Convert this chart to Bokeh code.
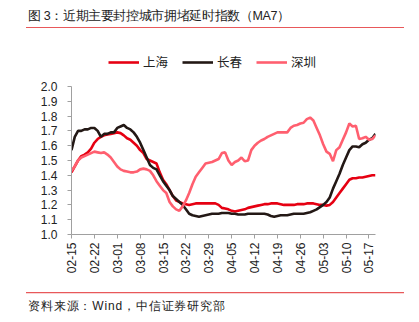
import pandas as pd
from bokeh.plotting import figure
from bokeh.models import (Range1d, FixedTicker, Legend, LegendItem, ColumnDataSource,
                          NumeralTickFormatter, Div)
from bokeh.layouts import column
from bokeh.embed import file_html
from bokeh.resources import INLINE

title_text = "图 3：近期主要封控城市拥堵延时指数（MA7）"
source_text = "资料来源：Wind，中信证券研究部"

dates = pd.date_range("2022-02-15", periods=94, freq="D")
tick_labels = ["02-15", "02-22", "03-01", "03-08", "03-15", "03-22", "03-29",
               "04-05", "04-12", "04-19", "04-26", "05-03", "05-10", "05-17"]
y_ticks = [1.0, 1.1, 1.2, 1.3, 1.4, 1.5, 1.6, 1.7, 1.8, 1.9, 2.0]

shanghai = [1.42, 1.46, 1.50, 1.53, 1.54, 1.555, 1.58, 1.62, 1.645, 1.66,
            1.67, 1.675, 1.68, 1.685, 1.69, 1.685, 1.67, 1.65, 1.64, 1.62,
            1.60, 1.57, 1.55, 1.51, 1.50, 1.49, 1.48, 1.42, 1.37, 1.34,
            1.30, 1.26, 1.23, 1.22, 1.21, 1.205, 1.20, 1.205, 1.21, 1.21,
            1.21, 1.21, 1.21, 1.21, 1.21, 1.20, 1.18, 1.175, 1.17, 1.16,
            1.155, 1.16, 1.165, 1.17, 1.18, 1.185, 1.19, 1.195, 1.20, 1.205,
            1.205, 1.21, 1.21, 1.21, 1.205, 1.20, 1.20, 1.20, 1.20, 1.205,
            1.205, 1.205, 1.21, 1.21, 1.21, 1.205, 1.20, 1.20, 1.195, 1.20,
            1.22, 1.25, 1.28, 1.31, 1.34, 1.37, 1.38, 1.38, 1.385, 1.385,
            1.39, 1.395, 1.40, 1.40]

changchun = [1.57, 1.66, 1.70, 1.70, 1.71, 1.71, 1.72, 1.72, 1.70, 1.66,
             1.68, 1.68, 1.69, 1.69, 1.72, 1.73, 1.74, 1.72, 1.71, 1.69,
             1.66, 1.62, 1.57, 1.52, 1.47, 1.45, 1.44, 1.40, 1.36, 1.33,
             1.30, 1.26, 1.24, 1.22, 1.20, 1.17, 1.14, 1.13, 1.125, 1.12,
             1.125, 1.13, 1.135, 1.14, 1.14, 1.14, 1.145, 1.145, 1.145, 1.14,
             1.14, 1.135, 1.135, 1.135, 1.14, 1.14, 1.14, 1.14, 1.14, 1.14,
             1.135, 1.125, 1.12, 1.125, 1.13, 1.13, 1.13, 1.135, 1.14, 1.14,
             1.14, 1.14, 1.145, 1.15, 1.16, 1.17, 1.185, 1.20, 1.22, 1.25,
             1.31, 1.36, 1.41, 1.47, 1.52, 1.57, 1.595, 1.595, 1.59, 1.61,
             1.62, 1.64, 1.65, 1.68]

shenzhen = [1.43, 1.46, 1.50, 1.52, 1.53, 1.54, 1.55, 1.56, 1.555, 1.55,
            1.555, 1.54, 1.52, 1.49, 1.46, 1.44, 1.43, 1.425, 1.42, 1.42,
            1.425, 1.44, 1.445, 1.44, 1.43, 1.40, 1.36, 1.33, 1.30, 1.28,
            1.22, 1.19, 1.17, 1.16, 1.19, 1.23, 1.28, 1.34, 1.39, 1.42,
            1.45, 1.48, 1.485, 1.49, 1.50, 1.51, 1.55, 1.555, 1.50, 1.47,
            1.49, 1.50, 1.52, 1.495, 1.50, 1.57, 1.60, 1.62, 1.635, 1.645,
            1.66, 1.67, 1.68, 1.69, 1.69, 1.69, 1.69, 1.72, 1.735, 1.74,
            1.75, 1.755, 1.78, 1.79, 1.77, 1.72, 1.67, 1.61, 1.56, 1.545,
            1.495, 1.57, 1.59, 1.64, 1.69, 1.75, 1.73, 1.735, 1.645, 1.65,
            1.66, 1.64, 1.645, 1.67]

series_names = ["上海", "长春", "深圳"]
series_colors = ["#e60012", "#231815", "#ff5f6f"]

x = list(range(len(dates)))
label_list = [d.strftime("%m-%d") for d in dates]
tick_pos = [label_list.index(t) for t in tick_labels]

CJK = "Noto Sans CJK SC"
LAT = "Liberation Sans"
RULE = "#e8585a"
TXT = "#222222"
LW = 2.6

W = 419
HEAD_H = 28          # header: canvas y 0..28
FIG_H = 264          # figure: canvas y 28..292
FOOT_H = 30          # footer: canvas y 292..322

# frame geometry (canvas pixels)
FL, FR = 71, 375
F_TOP = 40           # frame extends above the 2.0 line so the legend fits inside it
Y2 = 86              # canvas y of value 2.0
FB = 234             # canvas y of value 1.0 (frame bottom)
px_per_unit = (FB - Y2) / (y_ticks[-1] - y_ticks[0])
y_top = y_ticks[0] + (FB - F_TOP) / px_per_unit

p = figure(width=W, height=FIG_H, output_backend="svg", toolbar_location=None,
           x_range=Range1d(0, len(dates) - 1), y_range=Range1d(y_ticks[0], y_top),
           min_border_left=FL, min_border_right=W - FR,
           min_border_top=F_TOP - HEAD_H,
           min_border_bottom=HEAD_H + FIG_H - FB, margin=(0, 0, 0, 0))
p.outline_line_color = None
p.xgrid.visible = False
p.ygrid.visible = False

renderers = []
for name, vals, col in zip(series_names, [shanghai, changchun, shenzhen], series_colors):
    src = ColumnDataSource(dict(x=x, y=vals))
    renderers.append(p.line("x", "y", source=src, line_color=col, line_width=LW))

p.xaxis.ticker = FixedTicker(ticks=tick_pos)
p.xaxis.major_label_overrides = {pos: lab for pos, lab in zip(tick_pos, tick_labels)}
p.xaxis.major_label_orientation = 1.5708
p.xaxis.minor_tick_line_color = None
p.xaxis.major_tick_in = 0
p.xaxis.major_tick_out = 4
p.xaxis.major_label_standoff = 4

p.yaxis.ticker = FixedTicker(ticks=y_ticks)
p.yaxis.bounds = (y_ticks[0], y_ticks[-1])
p.yaxis.formatter = NumeralTickFormatter(format="0.0")
p.yaxis.minor_tick_line_color = None
p.yaxis.major_tick_in = 0
p.yaxis.major_tick_out = 4
p.yaxis.major_label_standoff = 10

for ax in (p.xaxis, p.yaxis):
    ax.axis_line_color = "#a0a0a0"
    ax.major_tick_line_color = "#a0a0a0"
    ax.major_label_text_font = LAT
    ax.major_label_text_font_size = "12px"
    ax.major_label_text_color = TXT

legend = Legend(items=[LegendItem(label=n, renderers=[r]) for n, r in zip(series_names, renderers)],
                orientation="horizontal", location=(108 - FL, FB - 71),
                glyph_width=31, glyph_height=16, label_height=16, label_standoff=4,
                spacing=14, padding=0, margin=0, border_line_alpha=0,
                background_fill_alpha=0, label_text_font=CJK,
                label_text_font_size="12.5px", label_text_color=TXT)
p.add_layout(legend)

svg_head = (
    f'<svg xmlns="http://www.w3.org/2000/svg" width="{W}" height="{HEAD_H}" style="display:block">'
    f'<text x="28" y="17" dominant-baseline="middle" font-family="{CJK}" font-size="12.5px" '
    f'textLength="262" lengthAdjust="spacing" fill="{TXT}">{title_text}</text>'
    f'<line x1="26" y1="27.5" x2="404" y2="27.5" stroke="{RULE}" stroke-width="1.2"/></svg>')
svg_foot = (
    f'<svg xmlns="http://www.w3.org/2000/svg" width="{W}" height="{FOOT_H}" style="display:block">'
    f'<line x1="26" y1="0.6" x2="404" y2="0.6" stroke="{RULE}" stroke-width="1.2"/>'
    f'<text x="28" y="15" dominant-baseline="middle" font-family="{CJK}" font-size="12px" '
    f'textLength="197" lengthAdjust="spacing" fill="{TXT}">{source_text}</text></svg>')

head = Div(width=W, height=HEAD_H, text=svg_head, margin=(0, 0, 0, 0))
foot = Div(width=W, height=FOOT_H, text=svg_foot, margin=(0, 0, 0, 0))

layout = column(head, p, foot, spacing=0, margin=(0, 0, 0, 0))
open("out.html", "w").write(file_html(layout, INLINE))
